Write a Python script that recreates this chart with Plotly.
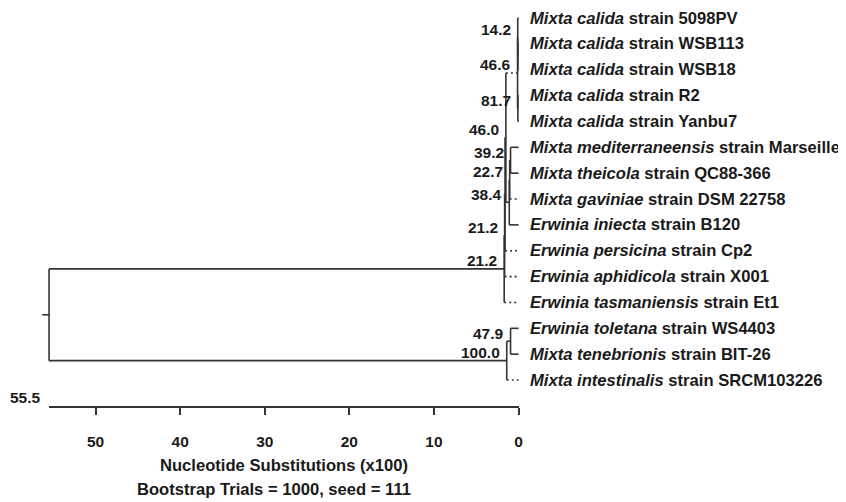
import plotly.graph_objects as go

# ---------------- data ----------------
leaf_genus = ["Mixta", "Mixta", "Mixta", "Mixta", "Mixta", "Mixta", "Mixta", "Mixta",
              "Erwinia", "Erwinia", "Erwinia", "Erwinia", "Erwinia", "Mixta", "Mixta"]
leaf_species = ["calida", "calida", "calida", "calida", "calida", "mediterraneensis",
                "theicola", "gaviniae", "iniecta", "persicina", "aphidicola",
                "tasmaniensis", "toletana", "tenebrionis", "intestinalis"]
leaf_strain = ["5098PV", "WSB113", "WSB18", "R2", "Yanbu7", "Marseille", "QC88-366",
               "DSM 22758", "B120", "Cp2", "X001", "Et1", "WS4403", "BIT-26", "SRCM103226"]

# internal nodes: children are leaf indices (int) or node ids (str)
node_ids = ["c12", "c012", "c34", "calida", "mt", "mtg", "mtgi", "n3", "n2", "n1",
            "upper", "tb", "lower", "root"]
node_children = [(1, 2), (0, "c12"), (3, 4), ("c012", "c34"), (5, 6), ("mt", 7),
                 ("mtg", 8), ("calida", "mtgi"), ("n3", 9), ("n2", 10), ("n1", 11),
                 (12, 13), ("tb", 14), ("upper", "lower")]
node_heights = [0.08, 0.10, 0.08, 0.12, 0.95, 1.05, 1.10, 1.50, 1.60, 1.65, 1.70,
                0.95, 1.40, 55.5]
node_support = [None, 14.2, 81.7, 46.6, 39.2, 22.7, 38.4, 46.0, None, 21.2, 21.2,
                47.9, 100.0, None]

scale_ticks = [50, 40, 30, 20, 10, 0]
scale_title = "Nucleotide Substitutions (x100)"
bootstrap_note = "Bootstrap Trials = 1000, seed = 111"

# ---------------- style / page geometry ----------------
PAGE_W, PAGE_H = 846, 502
OFF = 8                      # default page body margin
W, H = PAGE_W, PAGE_H - OFF
FONT = "Liberation Sans, Arial, sans-serif"
TXT = "#1a1a1a"
LINE = "#333333"
LW = 1.6
dotted_children = {7, 9, 10, 11, 14, "calida"}
root_stub = 0.8
PX_PER_UNIT = 8.5
X0_PAGE = 521                # page x of distance 0
LEAF0_PAGE, LEAF_STEP = 18, 25.86
TOP_PAGE, BOT_PAGE = 10, 406

XR = [(X0_PAGE - OFF) / PX_PER_UNIT, (X0_PAGE - OFF - W) / PX_PER_UNIT]
YR = [(BOT_PAGE - LEAF0_PAGE) / LEAF_STEP, (TOP_PAGE - LEAF0_PAGE) / LEAF_STEP]


def py(page_y):
    return (H - (page_y - OFF)) / H


def xdom(u):
    return (XR[0] - u) / (XR[0] - XR[1])


# ---------------- geometry from the tree ----------------
node_index = {n: i for i, n in enumerate(node_ids)}
ypos, xpos = {}, {}
for i in range(len(leaf_strain)):
    ypos[i] = float(i)
    xpos[i] = 0.0


def get_y(k):
    if k in ypos:
        return ypos[k]
    a, b = node_children[node_index[k]]
    ypos[k] = (get_y(a) + get_y(b)) / 2
    xpos[k] = node_heights[node_index[k]]
    return ypos[k]


for n in node_ids:
    get_y(n)

sx, sy, dx, dy = [], [], [], []
for n, ch in zip(node_ids, node_children):
    nx = xpos[n]
    ys = [ypos[c] for c in ch]
    sx += [nx, nx, None]
    sy += [min(ys), max(ys), None]
    for c in ch:
        if c in dotted_children:
            dx += [nx, xpos[c], None]
            dy += [ypos[c], ypos[c], None]
        else:
            sx += [nx, xpos[c], None]
            sy += [ypos[c], ypos[c], None]
sx += [xpos["root"], xpos["root"] + root_stub, None]
sy += [ypos["root"], ypos["root"], None]

fig = go.Figure()
fig.add_trace(go.Scatter(x=sx, y=sy, mode="lines", line=dict(color=LINE, width=LW),
                         hoverinfo="skip", showlegend=False))
fig.add_trace(go.Scatter(x=dx, y=dy, mode="lines",
                         line=dict(color=LINE, width=LW, dash="2px,3px"),
                         hoverinfo="skip", showlegend=False))

yb = py(BOT_PAGE)
fig.add_trace(go.Scatter(x=[xpos["root"], 0], y=[0, 0], mode="markers",
                         marker=dict(opacity=0), xaxis="x2", yaxis="y2",
                         hoverinfo="skip", showlegend=False))

annotations = []
for i in range(len(leaf_strain)):
    annotations.append(dict(
        x=0, y=i, xref="x", yref="y", xanchor="left", yanchor="middle", xshift=9,
        text=f"<b><i>{leaf_genus[i]} {leaf_species[i]}</i> strain {leaf_strain[i]}</b>",
        showarrow=False, font=dict(family=FONT, size=16.6, color=TXT)))
for n, v in zip(node_ids, node_support):
    if v is None:
        continue
    annotations.append(dict(
        x=xpos[n], y=ypos[n], xref="x", yref="y", xanchor="right", yanchor="middle",
        xshift=-5, yshift=8, text=f"<b>{v:.1f}</b>", showarrow=False,
        font=dict(family=FONT, size=15.5, color=TXT)))
annotations.append(dict(
    x=xpos["root"], y=yb, xref="x", yref="paper", xanchor="right", yanchor="middle",
    xshift=-6, yshift=9, text=f"<b>{xpos['root']:.1f}</b>", showarrow=False,
    font=dict(family=FONT, size=15.5, color=TXT)))
mid = (xdom(xpos["root"]) + xdom(0)) / 2
annotations.append(dict(
    x=mid, y=py(465), xref="paper", yref="paper", xanchor="center",
    yanchor="middle", text=f"<b>{scale_title}</b>", showarrow=False,
    font=dict(family=FONT, size=16.6, color=TXT)))
annotations.append(dict(
    x=mid, y=py(489), xref="paper", yref="paper", xanchor="center",
    yanchor="middle", xshift=-10, text=f"<b>{bootstrap_note}</b>", showarrow=False,
    font=dict(family=FONT, size=16.6, color=TXT)))

fig.update_layout(
    width=W, height=H, margin=dict(l=0, r=0, t=0, b=0),
    paper_bgcolor="white", plot_bgcolor="rgba(0,0,0,0)",
    xaxis=dict(domain=[0, 1], range=XR, visible=False),
    yaxis=dict(domain=[yb, py(TOP_PAGE)], range=YR, visible=False),
    xaxis2=dict(domain=[xdom(xpos["root"]), xdom(0)], range=[xpos["root"], 0],
                anchor="y2", showline=True, linecolor=LINE, linewidth=LW,
                ticks="outside", ticklen=7, tickwidth=LW, tickcolor=LINE,
                tickvals=scale_ticks, ticktext=[f"<b>{t}</b>" for t in scale_ticks],
                tickfont=dict(family=FONT, size=15.5, color=TXT),
                ticklabelstandoff=14, showgrid=False, zeroline=False),
    yaxis2=dict(domain=[yb, yb + 0.001], range=[-1, 1], visible=False),
    annotations=annotations,
)

fig.write_html("out.html")
